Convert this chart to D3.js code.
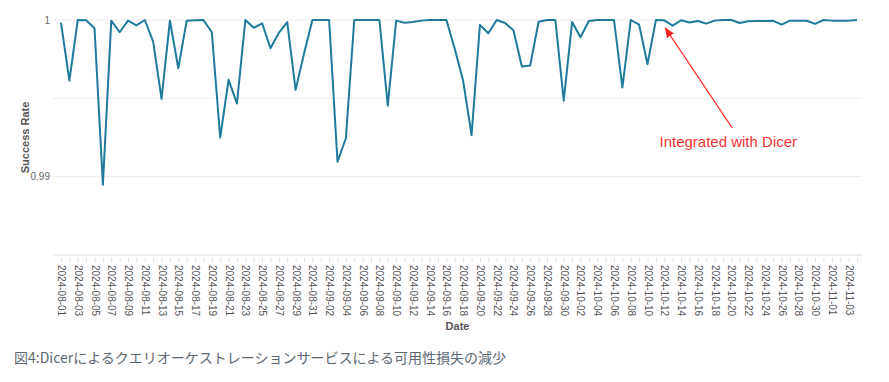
<!DOCTYPE html>
<html>
<head>
<meta charset="utf-8">
<script src="https://cdn.jsdelivr.net/npm/d3@7"></script>
<style>
    body { margin: 0; background: #fff; font-family: "Liberation Sans", Arial, Helvetica, sans-serif; }
    #chart { width: 889px; height: 382px; }
    .caption { font-family: "Noto Sans CJK JP", "Noto Sans", sans-serif; }
</style>
</head>
<body>
<div id="chart"></div>
<script>
// daily success rate, 2024-08-01 .. 2024-11-04
const startDate = "2024-08-01";
const endDate = "2024-11-05";
const successRate = [
    0.99983, 0.99613, 1.0, 0.99998, 0.99947, 0.98949, 0.99996, 0.99922, 0.99996, 0.99966,
    1.0, 0.99862, 0.99497, 0.99996, 0.99692, 0.99996, 0.99998, 1.0, 0.99922, 0.99250,
    0.99618, 0.99467, 1.0, 0.99950, 0.99979, 0.99820, 0.99918, 0.99986, 0.99554, 0.99785,
    1.0, 1.0, 1.0, 0.99095, 0.99245, 1.0, 1.0, 1.0, 1.0, 0.99454,
    0.99996, 0.99983, 0.99987, 0.99996, 1.0, 1.0, 1.0, 0.99815, 0.99610, 0.99265,
    0.99969, 0.99915, 1.0, 0.99981, 0.99934, 0.99703, 0.99710, 0.99989, 1.0, 1.0,
    0.99485, 0.99987, 0.99890, 0.99994, 1.0, 1.0, 1.0, 0.99569, 1.0, 0.99970,
    0.99718, 1.0, 0.99998, 0.99964, 0.99998, 0.99984, 0.99994, 0.99977, 0.99996, 1.0,
    1.0, 0.99981, 0.99992, 0.99993, 0.99994, 0.99995, 0.99970, 0.99996, 0.99995, 0.99995,
    0.99975, 1.0, 0.99996, 0.99996, 0.99996, 1.0
];
const yTicks = [0.99, 1];
const yGrid = [0.99, 0.995, 1];
const annotationDate = "2024-10-12";
const annotationText = "Integrated with Dicer";
const captionText = "図4:Dicerによるクエリオーケストレーションサービスによる可用性損失の減少";

const fmt = d3.utcFormat("%Y-%m-%d");
const dates = d3.utcDay.range(new Date(startDate), new Date(endDate)).map(fmt);
const data = dates.map((d, i) => ({date: d, value: successRate[i]}));

const margin = {top: 20, left: 53, right: 27, bottom: 127};
const width = 889 - margin.left - margin.right;
const height = 382 - margin.top - margin.bottom;

const svg = d3.select("#chart").append("svg")
    .attr("width", 889)
    .attr("height", 382);

const g = svg.append("g")
    .attr("transform", "translate(" + margin.left + "," + margin.top + ")");

const x = d3.scalePoint()
    .domain(dates)
    .range([8, width - 5]);

const y = d3.scaleLinear()
    .domain([0.985, 1.0])
    .range([height, 0]);

// grid lines
g.selectAll(".grid")
    .data(yGrid)
    .enter().append("line")
    .attr("class", "grid")
    .attr("x1", 0)
    .attr("x2", width)
    .attr("y1", d => y(d))
    .attr("y2", d => y(d))
    .attr("stroke", "#ececec")
    .attr("stroke-width", 1);

// y axis labels
const yAxis = d3.axisLeft(y)
    .tickValues(yTicks)
    .tickFormat(d3.format("~g"))
    .tickSize(0)
    .tickPadding(3);

g.append("g")
    .attr("class", "y-axis")
    .call(yAxis)
    .call(s => s.select(".domain").remove())
    .selectAll("text")
    .attr("fill", "#666")
    .style("font-size", "10px");

// x axis baseline
g.append("line")
    .attr("x1", 0)
    .attr("x2", width)
    .attr("y1", height)
    .attr("y2", height)
    .attr("stroke", "#dcdcdc");

// daily tick marks
g.append("g")
    .attr("transform", "translate(0," + (height + 2) + ")")
    .call(d3.axisBottom(x).tickFormat("").tickSize(5).tickSizeOuter(0))
    .call(s => s.select(".domain").remove())
    .selectAll("line")
    .attr("stroke", "#e2e2e2");

// labels every second day
const xAxis = d3.axisBottom(x)
    .tickValues(dates.filter((d, i) => i % 2 === 0 && i < 95))
    .tickSize(0)
    .tickSizeOuter(0);

g.append("g")
    .attr("class", "x-axis")
    .attr("transform", "translate(0," + height + ")")
    .call(xAxis)
    .call(s => s.select(".domain").remove())
    .selectAll("text")
    .attr("transform", "rotate(90)")
    .attr("text-anchor", "start")
    .attr("x", 10)
    .attr("y", 0)
    .attr("dy", "0.35em")
    .attr("fill", "#555")
    .style("font-size", "10px");

// axis titles
g.append("text")
    .attr("transform", "rotate(-90)")
    .attr("x", -height / 2)
    .attr("y", -24)
    .attr("text-anchor", "middle")
    .attr("fill", "#555")
    .style("font-size", "11px")
    .style("font-weight", "bold")
    .text("Success Rate");

g.append("text")
    .attr("x", width / 2)
    .attr("y", height + 75)
    .attr("text-anchor", "middle")
    .attr("fill", "#555")
    .style("font-size", "11px")
    .style("font-weight", "bold")
    .text("Date");

// the line
const line = d3.line()
    .x(d => x(d.date))
    .y(d => y(d.value));

g.append("path")
    .datum(data)
    .attr("fill", "none")
    .attr("stroke", "#1f7a9c")
    .attr("stroke-width", 2)
    .attr("stroke-linejoin", "round")
    .attr("d", line);

// annotation
svg.append("defs").append("marker")
    .attr("id", "arrow")
    .attr("viewBox", "0 0 10 10")
    .attr("refX", 9)
    .attr("refY", 5)
    .attr("markerWidth", 8)
    .attr("markerHeight", 8)
    .attr("orient", "auto")
    .append("path")
    .attr("d", "M0,1 L10,5 L0,9 Z")
    .attr("fill", "#f22");

const ax = x(annotationDate);
g.append("line")
    .attr("x1", ax + 68)
    .attr("y1", 108)
    .attr("x2", ax + 1)
    .attr("y2", 8)
    .attr("stroke", "#f22")
    .attr("stroke-width", 1.3)
    .attr("marker-end", "url(#arrow)");

g.append("text")
    .attr("x", ax + 64)
    .attr("y", 127)
    .attr("text-anchor", "middle")
    .attr("fill", "#ef3434")
    .style("font-size", "15px")
    .text(annotationText);

// caption
svg.append("text")
    .attr("class", "caption")
    .attr("x", 14)
    .attr("y", 363)
    .attr("fill", "#5b6873")
    .style("font-size", "14px")
    .text(captionText);
</script>
</body>
</html>
